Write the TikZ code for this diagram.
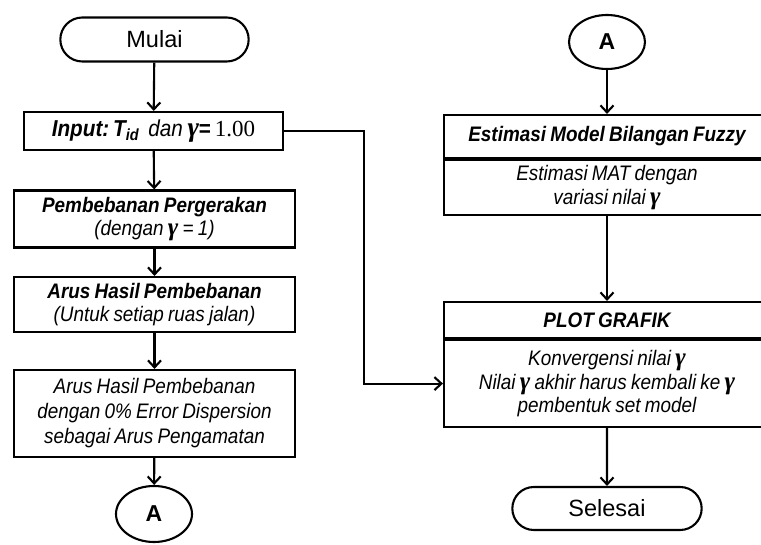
\documentclass[tikz,border=0pt]{standalone}
\usepackage{fontspec}
\setmainfont{Liberation Sans}[FakeStretch=0.9]
\newfontfamily\termfont{Liberation Sans}
\newfontfamily\gfont{Liberation Serif}[Scale=1.2]
\newfontfamily\numfont{Liberation Serif}
\usepackage{tikz}
\usetikzlibrary{arrows.meta,positioning,shapes.geometric,shapes.misc}
\newcommand{\gam}{{\gfont\bfseries\itshape γ}}
\newcommand{\tightsp}{\spaceskip=0.2em\relax}

\tikzset{
    terminal/.style={draw, rounded rectangle, line width=2.1pt, minimum width=195, minimum height=44, font=\fontsize{23.5}{26}\termfont},
    procbox/.style={draw, rectangle, line width=2.1pt, minimum width=281, align=center, inner sep=2pt, font=\fontsize{21}{23}\selectfont\itshape\tightsp},
    headbox/.style={draw, rectangle, line width=2.1pt, minimum width=326, align=center, inner sep=2pt, font=\fontsize{21}{23}\selectfont\bfseries\itshape\tightsp},
    bodybox/.style={draw, rectangle, line width=2.1pt, minimum width=326, align=center, inner sep=2pt, font=\fontsize{21}{23.5}\selectfont\itshape\tightsp},
    connA/.style={draw, ellipse, line width=2.1pt, minimum width=76, minimum height=56, font=\fontsize{23}{26}\termfont\bfseries},
    flow/.style={line width=2.1pt, -{Straight Barb[length=7pt,width=13pt,line width=2.1pt]}}
}

\begin{document}
\begin{tikzpicture}[x=1pt,y=-1pt]
    \useasboundingbox (0,0) rectangle (761,545);

    % left column
    \node[terminal] (mulai) at (154.5,39.5) {Mulai};
    \node[procbox, minimum width=259, minimum height=38, font=\fontsize{23}{26}\selectfont\tightsp] (input) at (153.5,131)
        {{\bfseries\itshape Input:\,T\textsubscript{id}}\ \ {\itshape dan} \gam\textbf{=}\,{\numfont 1.00}};
    \node[procbox, minimum height=57] (pemb) at (154.5,219)
        {{\bfseries Pembebanan Pergerakan}\\(dengan \gam\ = 1)};
    \node[procbox, minimum height=55] (arus) at (154.5,304.5)
        {{\bfseries Arus Hasil Pembebanan}\\(Untuk setiap ruas jalan)};
    \node[procbox, minimum height=87, font=\fontsize{21}{25}\selectfont\itshape\tightsp] (obs) at (154.5,413.5)
        {Arus Hasil Pembebanan\\dengan 0\% Error Dispersion\\sebagai Arus Pengamatan};
    \node[connA] (outA) at (154,514) {A};

    % right column
    \node[connA, minimum height=54] (inA) at (607,42) {A};
    \node[headbox, minimum height=43] (esthead) at (607,136.5) {Estimasi Model Bilangan Fuzzy};
    \node[bodybox, minimum height=55, anchor=north] (estbody) at (esthead.south) {Estimasi MAT dengan\\variasi nilai \gam};
    \node[headbox, minimum height=36] (plothead) at (607,320) {PLOT GRAFIK};
    \node[bodybox, minimum height=87, anchor=north] (plotbody) at (plothead.south)
        {Konvergensi nilai \gam\\Nilai \gam\ akhir harus kembali ke \gam\\pembentuk set model};
    \node[terminal, minimum width=196, minimum height=43] (selesai) at (607,508.5) {Selesai};

    % connectors
    \draw[flow] (mulai) -- (input);
    \draw[flow] (input) -- (pemb);
    \draw[flow] (pemb) -- (arus);
    \draw[flow] (arus) -- (obs);
    \draw[flow] (obs) -- (outA);
    \draw[flow] (inA) -- (esthead);
    \draw[flow] (estbody) -- (plothead);
    \draw[flow] (plotbody) -- (selesai);
    \draw[flow] (input.east) -- ++(80,0) |- (plotbody.west);
\end{tikzpicture}
\end{document}
